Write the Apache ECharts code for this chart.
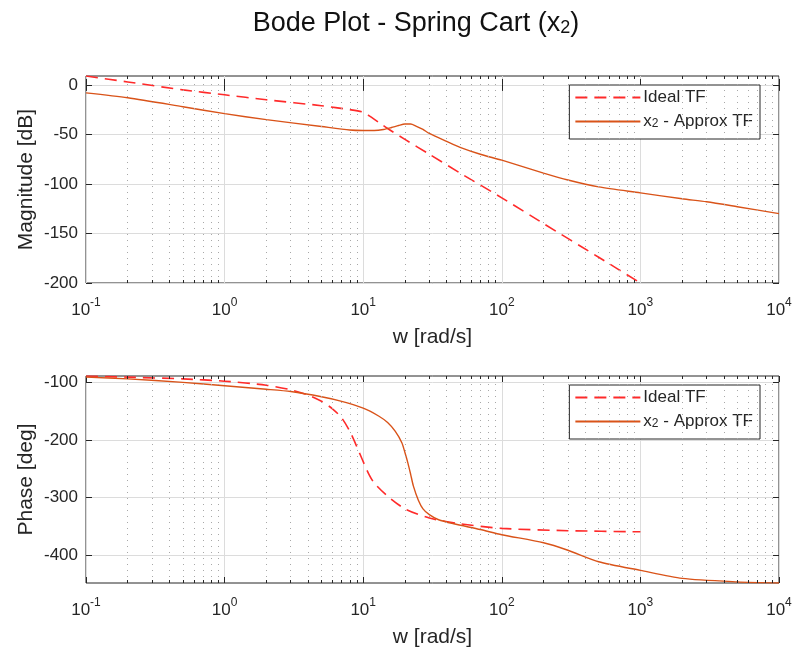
<!DOCTYPE html>
<html>
<head>
<meta charset="utf-8">
<script src="https://cdn.jsdelivr.net/npm/echarts@6/dist/echarts.min.js"></script>
<style>html,body{margin:0;padding:0;background:#fff}#c{width:801px;height:652px}</style>
</head>
<body>
<div id="c"></div>
<script>
// ---- data ----
const magIdealW  = [0.1, 0.2, 0.5, 1, 2, 5, 8, 10, 11, 13, 15, 20, 30, 50, 100, 200, 500, 1000];
const magIdealDb = [9, 3, -5, -10, -15, -21, -25, -27.5, -31, -38, -44, -55, -70, -89, -114, -140, -174, -200];
const magApproxW  = [0.1, 0.2, 0.5, 1, 2, 5, 8, 10, 12, 14, 16, 18, 20, 22, 24, 27, 30, 40, 50, 70, 100, 200, 300, 500, 1000, 2000, 3000, 5000, 10000];
const magApproxDb = [-8, -13, -22, -29, -35, -42, -45.5, -46, -46, -45, -43, -41, -39.5, -39.5, -41.5, -45, -49, -57, -63, -70, -76, -89, -96, -103, -109, -115, -118, -123, -130];
const phIdealW   = [0.1, 0.2, 0.5, 1, 2, 3, 4, 5, 6, 7, 8, 9, 10, 11, 12, 15, 20, 30, 50, 100, 300, 1000];
const phIdealDeg = [-89, -91, -94, -98, -105, -113, -122, -133, -146, -162, -185, -212, -238, -260, -275, -298, -320, -336, -346, -354, -358, -360];
const phApproxW   = [0.1, 0.2, 0.5, 1, 2, 3, 5, 7, 10, 13, 15, 17, 19, 20, 21, 22, 23, 25, 27, 30, 35, 45, 70, 100, 200, 300, 500, 1000, 2000, 5000, 10000];
const phApproxDeg = [-91, -94, -100, -106, -112, -116, -125, -133, -145, -159, -170, -185, -205, -222, -240, -260, -280, -305, -320, -330, -339, -346, -356, -365, -379, -392, -412, -427, -441, -447, -449];
const magTicks = [-200, -150, -100, -50, 0];
const phTicks  = [-400, -300, -200, -100];
const seriesNames = ['Ideal TF', 'x2 - Approx TF'];
const titleText = 'Bode Plot - Spring Cart (x{sub|2})';
const xName = 'w [rad/s]';
const magName = 'Magnitude [dB]';
const phName = 'Phase [deg]';

const zip = (a, b) => a.map((v, i) => [v, b[i]]);
const minorVals = [];
for (let d = -1; d <= 3; d++) for (let m = 2; m <= 9; m++) minorVals.push(+(m * Math.pow(10, d)).toPrecision(3));

const TXT = '#262626';
const FONT = 'Liberation Sans';
const RED = '#ff2a2a';
const ORANGE = '#d95319';

function xAxes(gridIndex) {
  return [{
    type: 'log', logBase: 10, gridIndex, min: 0.1, max: 10000,
    name: xName, nameLocation: 'middle', nameGap: 44,
    nameTextStyle: { color: TXT, fontSize: 21, fontFamily: FONT },
    axisLine: { show: false },
    axisTick: { show: true, inside: true, length: 6, lineStyle: { color: TXT } },
    axisLabel: {
      color: TXT, fontFamily: FONT, margin: 14,
      formatter: v => '{b|10}{sup|' + Math.round(Math.log10(v)) + '}',
      rich: {
        b: { fontSize: 17, fontFamily: FONT, color: TXT, lineHeight: 22, verticalAlign: 'bottom' },
        sup: { fontSize: 12, fontFamily: FONT, color: TXT, lineHeight: 12, verticalAlign: 'top' }
      }
    },
    splitLine: { show: true, lineStyle: { color: '#dcdcdc', width: 1 } }
  }, {
    type: 'log', logBase: 10, gridIndex, min: 0.1, max: 10000, position: 'top',
    axisLine: { show: false }, axisLabel: { show: false }, splitLine: { show: false },
    axisTick: { show: true, inside: true, length: 6, lineStyle: { color: TXT } }
  }];
}
function yAxes(gridIndex, min, max, ticks, name) {
  return [{
    type: 'value', gridIndex, min, max,
    name, nameLocation: 'middle', nameGap: 49, nameRotate: 90, nameMoveOverlap: false,
    nameTextStyle: { color: TXT, fontSize: 21, fontFamily: FONT },
    axisLine: { show: false },
    axisTick: { show: true, inside: true, length: 6, customValues: ticks, lineStyle: { color: TXT } },
    axisLabel: { color: TXT, fontSize: 17, fontFamily: FONT, margin: 8, customValues: ticks },
    splitLine: { show: true, lineStyle: { color: '#dcdcdc', width: 1 } }
  }, {
    type: 'value', gridIndex, min, max, position: 'right',
    axisLine: { show: false }, axisLabel: { show: false }, splitLine: { show: false },
    axisTick: { show: true, inside: true, length: 6, customValues: ticks, lineStyle: { color: TXT } }
  }];
}
// dotted minor grid at 2..9 x 10^k, plus short minor ticks on bottom/top edges
function minorGrid(xi, yi, ymin, ymax) {
  const tl = (ymax - ymin) * 3 / 207;
  const tickStyle = { type: 'solid', color: TXT, width: 1 };
  const data = [];
  minorVals.forEach(v => {
    data.push({ xAxis: v });
    data.push([{ coord: [v, ymin], lineStyle: tickStyle }, { coord: [v, ymin + tl] }]);
    data.push([{ coord: [v, ymax], lineStyle: tickStyle }, { coord: [v, ymax - tl] }]);
  });
  return {
    type: 'line', xAxisIndex: xi, yAxisIndex: yi, data: [], silent: true, z: 1,
    markLine: {
      silent: true, symbol: 'none', label: { show: false }, animation: false,
      lineStyle: { type: [1, 5], color: '#a8a8a8', width: 1 },
      emphasis: { disabled: true },
      data
    }
  };
}
function line(name, xi, yi, data, dashed) {
  return {
    name, type: 'line', xAxisIndex: xi, yAxisIndex: yi, data, symbol: 'none', z: 3,
    smooth: 0.25, animation: false,
    lineStyle: dashed ? { color: RED, width: 1.6, type: [12, 7] } : { color: ORANGE, width: 1.4 },
    itemStyle: { color: dashed ? RED : ORANGE }
  };
}
function legend(top) {
  return {
    top, right: 41, orient: 'vertical', data: seriesNames,
    backgroundColor: '#fff', borderColor: TXT, borderWidth: 1, borderRadius: 0,
    padding: [4, 7, 9, 5], itemGap: 7, itemWidth: 65, itemHeight: 17,
    selectedMode: false, align: 'left',
    itemStyle: { opacity: 0 },
    formatter: n => n === seriesNames[1] ? 'x{sub|2} - Approx TF' : n,
    textStyle: {
      color: TXT, fontSize: 17, fontFamily: FONT, padding: [0, 0, 0, -2],
      rich: { sub: { fontSize: 12, fontFamily: FONT, color: TXT, verticalAlign: 'bottom', lineHeight: 2 } }
    }
  };
}

const chart = echarts.init(document.getElementById('c'), null, { renderer: 'canvas' });
chart.setOption({
  animation: false,
  backgroundColor: '#fff',
  title: {
    text: titleText, left: 411, top: 5, textAlign: 'center',
    textStyle: {
      color: '#111', fontSize: 27, fontWeight: 'normal', fontFamily: FONT,
      rich: { sub: { fontSize: 18, fontFamily: FONT, color: '#111', verticalAlign: 'bottom', lineHeight: 4 } }
    }
  },
  grid: [
    { left: 86, top: 76, width: 693, height: 207, show: true, borderColor: TXT, borderWidth: 1, backgroundColor: 'transparent' },
    { left: 86, top: 376, width: 693, height: 207, show: true, borderColor: TXT, borderWidth: 1, backgroundColor: 'transparent' }
  ],
  xAxis: [...xAxes(0), ...xAxes(1)],
  yAxis: [...yAxes(0, -200, 9, magTicks, magName), ...yAxes(1, -449, -89, phTicks, phName)],
  legend: [legend(85), legend(385)],
  series: [
    minorGrid(0, 0, -200, 9),
    minorGrid(2, 2, -449, -89),
    line(seriesNames[0], 0, 0, zip(magIdealW, magIdealDb), true),
    line(seriesNames[1], 0, 0, zip(magApproxW, magApproxDb), false),
    line(seriesNames[0], 2, 2, zip(phIdealW, phIdealDeg), true),
    line(seriesNames[1], 2, 2, zip(phApproxW, phApproxDeg), false)
  ]
});
</script>
</body>
</html>
